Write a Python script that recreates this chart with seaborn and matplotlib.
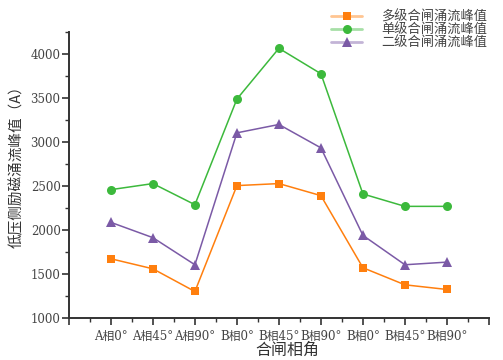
import matplotlib
matplotlib.use("Agg")
import matplotlib.pyplot as plt
from matplotlib.lines import Line2D
from matplotlib.ticker import MultipleLocator
import seaborn as sns
import pandas as pd

# Closing phase angle categories
categories = ["A相0°", "A相45°", "A相90°", "B相0°", "B相45°", "B相90°",
              "B相0°", "B相45°", "B相90°"]

# Inrush current peaks (A)
multi_stage = [1672, 1558, 1300, 2504, 2527, 2390, 1570, 1376, 1323]
single_stage = [2458, 2527, 2287, 3488, 4065, 3776, 2409, 2268, 2268]
two_stage = [2086, 1912, 1604, 3104, 3199, 2933, 1938, 1604, 1634]

series_names = ["多级合闸涌流峰值", "单级合闸涌流峰值", "二级合闸涌流峰值"]
series_values = [multi_stage, single_stage, two_stage]
colors = ["#FF7F0E", "#3CB93C", "#7B5AA6"]
markers = ["s", "o", "^"]
marker_sizes = [6, 6.5, 7.5]

sns.set_theme(style="ticks")
plt.rcParams["font.family"] = ["DejaVu Serif", "Noto Sans CJK SC"]
plt.rcParams["axes.unicode_minus"] = False

fig = plt.figure(figsize=(5.03, 3.6), dpi=100)
ax = fig.add_axes([0.137, 0.117, 0.835, 0.794])

positions = list(range(1, len(categories) + 1))
handles = []
for name, vals, c, m, ms in zip(series_names, series_values, colors, markers, marker_sizes):
    df = pd.DataFrame({"pos": positions, "val": vals})
    sns.lineplot(data=df, x="pos", y="val", ax=ax, color=c, marker=m,
                 markersize=ms, markeredgewidth=0, linewidth=1.1, legend=False)
    line_part = Line2D([], [], color=c, linewidth=2, alpha=0.45)
    mark_part = Line2D([], [], color=c, marker=m, markersize=ms,
                       linestyle="none", markeredgewidth=0)
    handles.append((line_part, mark_part))

ax.set_xlim(0, 10)
ax.set_ylim(1000, 4250)
ax.xaxis.set_minor_locator(MultipleLocator(0.5))
ax.yaxis.set_major_locator(MultipleLocator(500))
ax.yaxis.set_minor_locator(MultipleLocator(250))
ax.set_xticks(range(0, 11))
ax.set_xticklabels([""] + categories + [""])

axis_color = "#333333"
for side in ["top", "right"]:
    ax.spines[side].set_visible(False)
for side in ["left", "bottom"]:
    ax.spines[side].set_color(axis_color)
    ax.spines[side].set_linewidth(1.4)
ax.tick_params(which="major", length=5, width=1.2, color=axis_color,
               labelsize=8.5, labelcolor="#444444", direction="out", pad=1)
ax.tick_params(which="minor", length=3, width=1.0, color=axis_color, direction="out")
ax.tick_params(axis="x", which="major", pad=3.5)

ax.set_xlabel("合闸相角", fontsize=11.5, color="#333333",
              family=["Noto Sans CJK SC"])
ax.xaxis.set_label_coords(0.52, -0.085)
ax.set_ylabel("低压侧励磁涌流峰值（A）", fontsize=10.5, color="#333333",
              family=["Noto Sans CJK SC"])
ax.yaxis.set_label_coords(-0.107, 0.54)

leg = fig.legend(handles, series_names, loc="upper left",
                 bbox_to_anchor=(0.634, 1.005), frameon=False,
                 handlelength=2.4, handletextpad=1.4, labelspacing=0.0,
                 prop={"family": "Noto Sans CJK SC", "size": 9.5})
for t in leg.get_texts():
    t.set_color("#444444")

fig.savefig("out.png", dpi=100)
